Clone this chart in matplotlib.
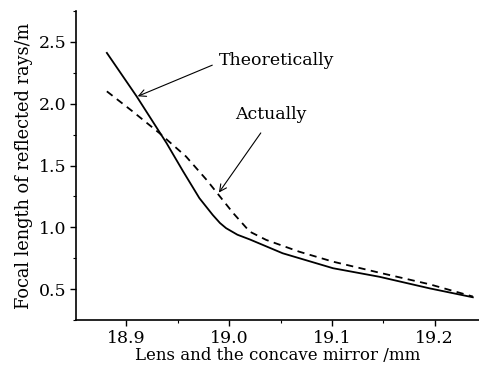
import matplotlib
matplotlib.use("Agg")
import matplotlib.pyplot as plt
from matplotlib.ticker import MultipleLocator

# Data
theo_x = [18.881, 18.910, 18.939, 18.955, 18.971, 18.984, 18.991, 18.997, 19.008, 19.020, 19.052, 19.101, 19.146, 19.195, 19.237]
theo_y = [2.411, 2.059, 1.682, 1.455, 1.236, 1.100, 1.035, 0.993, 0.940, 0.902, 0.790, 0.669, 0.600, 0.506, 0.434]

act_x = [18.881, 18.906, 18.932, 18.958, 18.978, 18.991, 19.004, 19.020, 19.036, 19.068, 19.101, 19.146, 19.195, 19.237]
act_y = [2.100, 1.938, 1.763, 1.573, 1.384, 1.249, 1.114, 0.965, 0.898, 0.803, 0.722, 0.633, 0.539, 0.440]

xticks = [18.9, 19.0, 19.1, 19.2]
yticks = [0.5, 1.0, 1.5, 2.0, 2.5]

plt.rcParams['font.family'] = ['DejaVu Serif']
plt.rcParams['mathtext.fontset'] = 'dejavuserif'

fig = plt.figure(figsize=(4.79, 3.68), dpi=100)
ax = fig.add_axes([0.1587, 0.1304, 0.8413, 0.8397])

ax.plot(theo_x, theo_y, color='black', lw=1.3, ls='-', solid_joinstyle='round')
ax.plot(act_x, act_y, color='black', lw=1.3, ls=(0, (4, 3)))

ax.set_xlim(18.851, 19.243)
ax.set_ylim(0.25, 2.75)
ax.set_xticks(xticks)
ax.set_xticklabels([f"{v:.1f}" for v in xticks])
ax.set_yticks(yticks)
ax.set_yticklabels([f"{v:.1f}" for v in yticks])
ax.xaxis.set_minor_locator(MultipleLocator(0.05))
ax.yaxis.set_minor_locator(MultipleLocator(0.25))
ax.tick_params(which='major', direction='out', length=4, width=1, labelsize=12.5, pad=3)
ax.tick_params(which='minor', direction='out', length=2.5, width=0.8)

for s in ['top', 'right']:
    ax.spines[s].set_visible(False)
for s in ['left', 'bottom']:
    ax.spines[s].set_linewidth(1.2)

ax.set_xlabel("Lens and the concave mirror /mm", fontsize=12, labelpad=0)
ax.set_ylabel("Focal length of reflected rays/m", fontsize=12.8, labelpad=4)

ax.annotate("Theoretically", xy=(18.911, 2.06), xytext=(18.990, 2.348),
            fontsize=12.5, va='center', ha='left',
            arrowprops=dict(arrowstyle='->', color='black', lw=0.8, shrinkA=3, shrinkB=0,
                            relpos=(0.0, 0.4)))
ax.annotate("Actually", xy=(18.990, 1.281), xytext=(19.006, 1.91),
            fontsize=12.5, va='center', ha='left',
            arrowprops=dict(arrowstyle='->', color='black', lw=0.8, shrinkA=6, shrinkB=0,
                            relpos=(0.45, 0.0)))

fig.savefig("out.png", dpi=100)
